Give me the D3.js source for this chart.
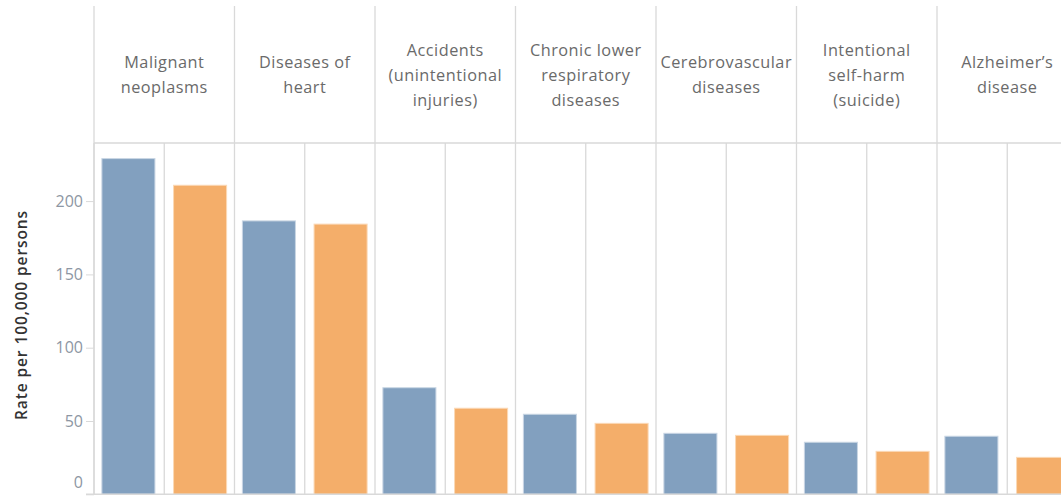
<!DOCTYPE html>
<html>
<head>
<meta charset="utf-8">
<script src="https://cdn.jsdelivr.net/npm/d3@7"></script>
<style>
  html, body { margin: 0; padding: 0; background: #fff; }
  svg { display: block; }
</style>
</head>
<body>
<svg id="chart" width="1061" height="497"></svg>
<script>
// ---- data ----
const categories = [
  "Malignant neoplasms",
  "Diseases of heart",
  "Accidents (unintentional injuries)",
  "Chronic lower respiratory diseases",
  "Cerebrovascular diseases",
  "Intentional self-harm (suicide)",
  "Alzheimer\u2019s disease"
];
const categoryLines = [
  ["Malignant", "neoplasms"],
  ["Diseases of", "heart"],
  ["Accidents", "(unintentional", "injuries)"],
  ["Chronic lower", "respiratory", "diseases"],
  ["Cerebrovascular", "diseases"],
  ["Intentional", "self-harm", "(suicide)"],
  ["Alzheimer\u2019s", "disease"]
];
const seriesNames = ["Group A", "Group B"];
const seriesA = [229, 186.5, 72.7, 54.6, 41.6, 35.5, 39.6];
const seriesB = [210.8, 184.3, 58.7, 48.4, 40.2, 29.3, 25.2];
const yTicks = [0, 50, 100, 150, 200];
const colors = ["#82a0bf", "#f4ae6a"];
const yTitle = "Rate per 100,000 persons";

// ---- layout ----
const svg = d3.select("#chart");
const left = 94, colW = 140.5;
const headerTop = 6, headerBottom = 143, baseY = 494.3;
const gridColor = "#d9d9d9";

const x0 = d3.scaleBand().domain(categories).range([left, left + colW * categories.length]).paddingInner(0).paddingOuter(0);
const x1 = d3.scaleBand().domain(seriesNames).range([0, x0.bandwidth()]).paddingInner(0.26).paddingOuter(0.11);
const y = d3.scaleLinear().domain([0, 229]).range([baseY, baseY - 229 * (73.3 / 50)]);

const g = svg.append("g");
categories.forEach((c, i) => {
  const xs = x0(c);
  g.append("line").attr("x1", xs).attr("x2", xs).attr("y1", headerTop).attr("y2", baseY)
    .attr("stroke", gridColor).attr("stroke-width", 1.3);
  const xm = xs + x0.bandwidth() / 2;
  g.append("line").attr("x1", xm).attr("x2", xm).attr("y1", headerBottom).attr("y2", baseY)
    .attr("stroke", gridColor).attr("stroke-width", 1.3);
});
g.append("line").attr("x1", left).attr("x2", 1061).attr("y1", headerBottom).attr("y2", headerBottom)
  .attr("stroke", gridColor).attr("stroke-width", 1.3);

// header text
const lineH = 25;
categories.forEach((c, i) => {
  const lines = categoryLines[i];
  const cx = x0(c) + x0.bandwidth() / 2;
  const cy = (headerTop + headerBottom) / 2;
  const t = g.append("text").attr("text-anchor", "middle")
    .attr("font-family", "Open Sans, sans-serif").attr("font-size", 16.3)
    .attr("letter-spacing", 0.5).attr("fill", "#6a6a6a");
  lines.forEach((ln, j) => {
    t.append("tspan").attr("x", cx)
      .attr("y", cy + (j - (lines.length - 1) / 2) * lineH + 6)
      .text(ln);
  });
});

// bars
const series = [seriesA, seriesB];
categories.forEach((c, i) => {
  series.forEach((s, k) => {
    const v = s[i];
    g.append("rect")
      .attr("x", x0(c) + x1(seriesNames[k]))
      .attr("width", x1.bandwidth())
      .attr("y", y(v))
      .attr("height", y(0) - y(v))
      .attr("fill", colors[k])
      .attr("stroke", k === 0 ? "#c9d6e4" : "#fbd9b6")
      .attr("stroke-width", 1);
  });
});

g.append("line").attr("x1", 86).attr("x2", 1061).attr("y1", baseY).attr("y2", baseY)
  .attr("stroke", gridColor).attr("stroke-width", 1.6);

// y axis
const yAxis = d3.axisLeft(y).tickValues(yTicks).tickSize(8).tickPadding(3).tickSizeOuter(0);
const ax = svg.append("g").attr("transform", `translate(${left},0)`).call(yAxis);
ax.select(".domain").attr("stroke", gridColor).attr("stroke-width", 1.3)
  .attr("d", `M0,${headerBottom}V${baseY}`);
ax.selectAll(".tick line").attr("stroke", gridColor);
ax.selectAll(".tick text").attr("font-family", "Open Sans, sans-serif").attr("font-size", 16)
  .attr("fill", "#8d96a3");
ax.selectAll(".tick").filter(d => d === 0).select("text").attr("dy", "-0.4em");

// y title
svg.append("text")
  .attr("transform", `translate(27,315) rotate(-90)`)
  .attr("text-anchor", "middle")
  .attr("font-family", "Open Sans, sans-serif").attr("font-size", 15.5).attr("font-weight", 600)
  .attr("letter-spacing", 0.9)
  .attr("fill", "#333")
  .text(yTitle);
</script>
</body>
</html>
